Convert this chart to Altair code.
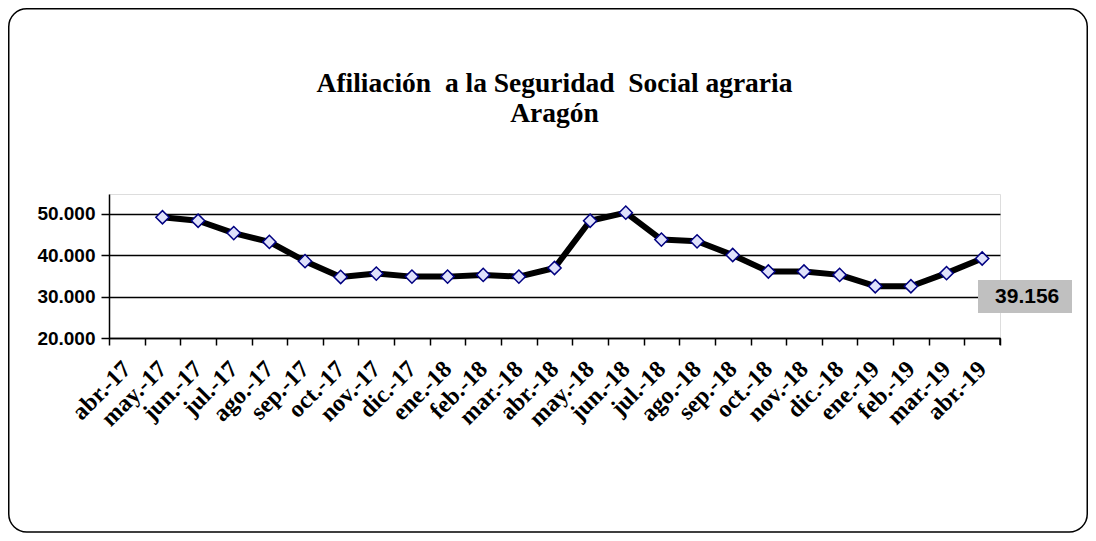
import altair as alt
import pandas as pd

months = ["abr.-17", "may.-17", "jun.-17", "jul.-17", "ago.-17", "sep.-17", "oct.-17",
          "nov.-17", "dic.-17", "ene.-18", "feb.-18", "mar.-18", "abr.-18", "may.-18",
          "jun.-18", "jul.-18", "ago.-18", "sep.-18", "oct.-18", "nov.-18", "dic.-18",
          "ene.-19", "feb.-19", "mar.-19", "abr.-19"]
values = [None, 49100, 48250, 45280, 43160, 38510, 34710, 35530, 34790, 34790, 35210,
          34790, 36870, 48250, 50200, 43710, 43300, 40000, 36030, 36030, 35210, 32480,
          32480, 35630, 39156]
y_ticks = [20000, 30000, 40000, 50000]
title_lines = ["Afiliación\u00a0 a la Seguridad\u00a0 Social agraria", "Aragón"]

df = pd.DataFrame({"mes": months, "afiliados": values})
last = df.iloc[[-1]].copy()
one = pd.DataFrame({"k": [0]})

W, H = 891, 144
fmt = "replace(format(datum.value, ','), ',', '.')"

x_enc = alt.X("mes:O", sort=months, title=None,
              scale=alt.Scale(type="band", domain=months, paddingInner=0, paddingOuter=0),
              axis=alt.Axis(labelAngle=-45, labelAlign="right", labelBaseline="middle",
                            labelFont="Liberation Serif", labelFontWeight="bold",
                            labelFontSize=24, labelColor="black", labelPadding=20,
                            tickSize=7, tickColor="black", tickWidth=1.5, tickBand="extent",
                            domainColor="black", domainWidth=1.5, grid=False,
                            labelOverlap=False))
y_enc = alt.Y("afiliados:Q", title=None,
              scale=alt.Scale(domain=[20000, 54700], nice=False, zero=False),
              axis=alt.Axis(values=y_ticks, labelExpr=fmt, labelFont="Liberation Sans",
                            labelFontWeight="bold", labelFontSize=19, labelColor="black",
                            labelPadding=6, tickSize=8, tickColor="black", tickWidth=1.5,
                            domainColor="black", domainWidth=1.5, grid=True,
                            gridColor="black", gridWidth=1.5))

base = alt.Chart(df)
line = base.mark_line(color="black", strokeWidth=6, strokeJoin="round").encode(x=x_enc, y=y_enc)
pts = base.mark_point(shape="diamond", filled=True, fill="#dfe1fb", stroke="#000080",
                      strokeWidth=1.5, size=175, opacity=1).encode(x=x_enc, y=y_enc)

box = alt.Chart(one).mark_rect(fill="#c0c0c0").encode(
    x=alt.value(869), x2=alt.value(963), y=alt.value(86), y2=alt.value(119))
lab = alt.Chart(last).transform_calculate(
    label="replace(format(datum.afiliados, ','), ',', '.')"
).mark_text(font="Liberation Sans", fontWeight="bold", fontSize=21, dx=45, dy=38,
            baseline="middle", align="center", color="black").encode(
    x=alt.X("mes:O", sort=months, scale=alt.Scale(type="band", domain=months)),
    y=alt.Y("afiliados:Q"), text="label:N")

frame = alt.Chart(one).mark_rect(fillOpacity=0, stroke="black", strokeWidth=1.5,
                                 cornerRadius=18).encode(
    x=alt.value(-100.25), x2=alt.value(978.25), y=alt.value(-185.25), y2=alt.value(338))
endtick = alt.Chart(one).mark_rule(color="black", strokeWidth=1.5).encode(
    x=alt.value(W), y=alt.value(H), y2=alt.value(H + 7))

chart = alt.layer(frame, line, pts, box, lab, endtick).properties(
    width=W, height=H,
    title=alt.TitleParams(text=title_lines, font="Liberation Serif", fontSize=27.5,
                          fontWeight="bold", color="black", anchor="middle",
                          frame="group", offset=-147, lineHeight=30, baseline="bottom"),
    autosize=alt.AutoSizeParams(type="none"),
    padding={"left": 101, "top": 186, "right": 88, "bottom": 195},
).configure_view(stroke=None).configure(background="white")

chart.save("out.html", embed_options={"renderer": "svg", "actions": False})
